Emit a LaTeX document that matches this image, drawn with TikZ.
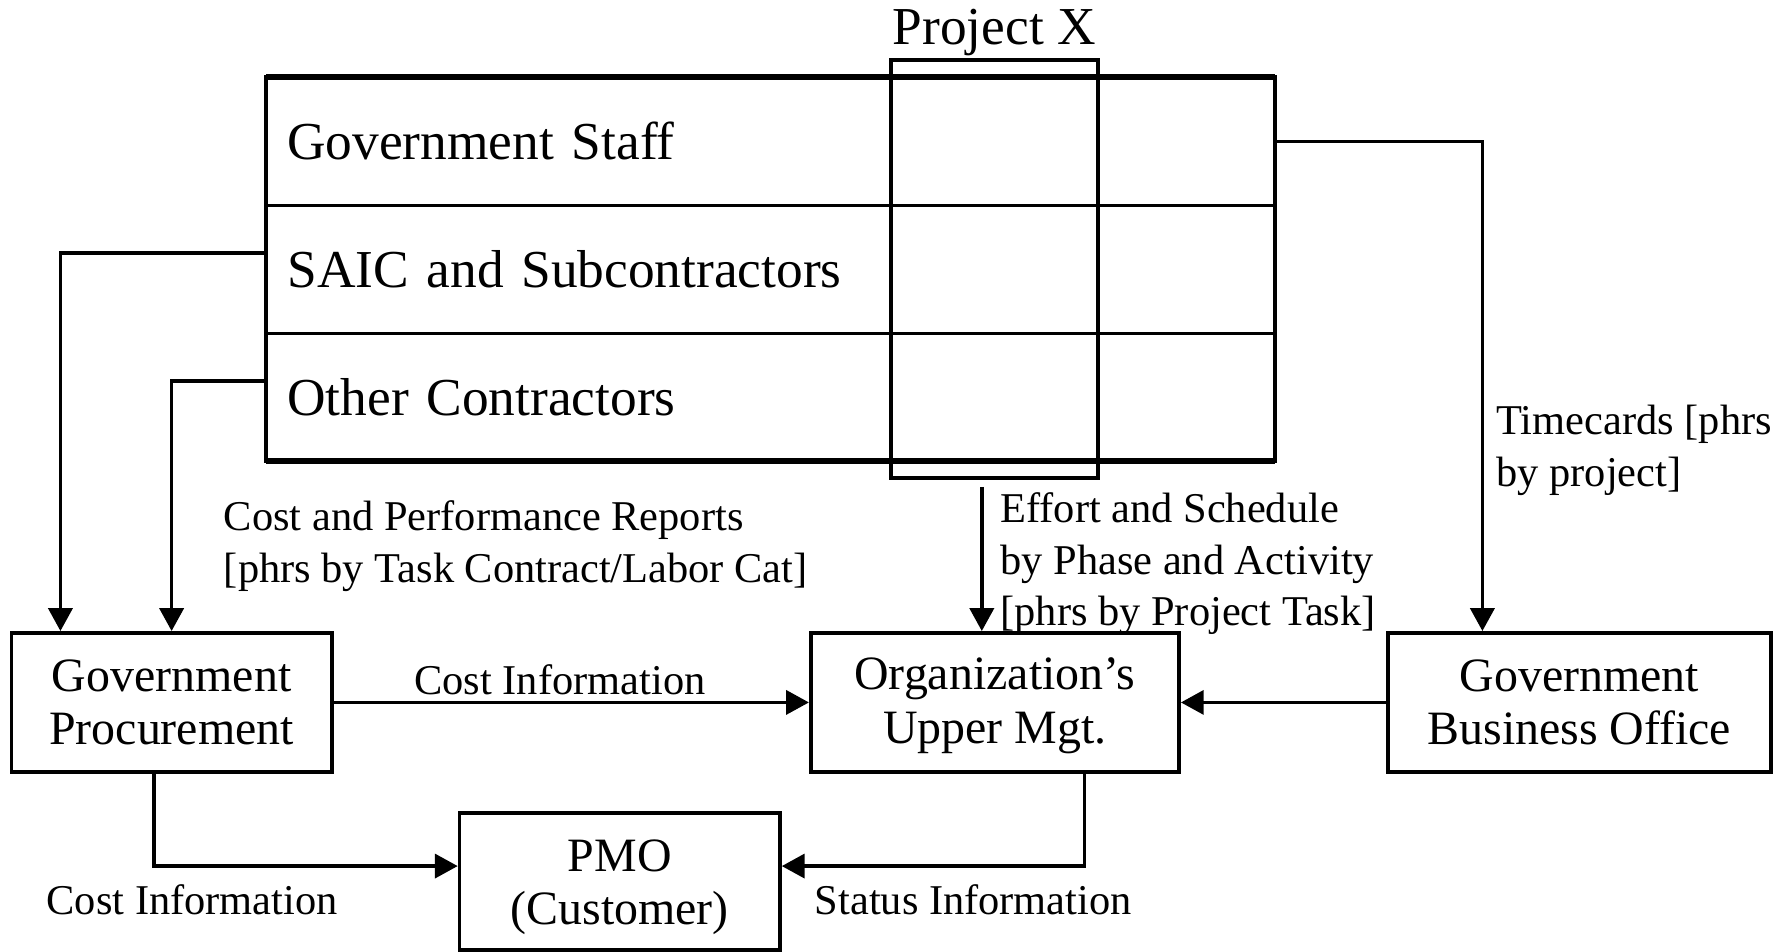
\documentclass[tikz,border=0pt]{standalone}
\usepackage{fontspec}
\setmainfont{Liberation Serif}
\usetikzlibrary{arrows.meta,positioning}
\newcommand{\bigfont}{\fontsize{23.4}{26}\selectfont}
\newcommand{\boxfont}{\fontsize{21}{23.5}\selectfont}
\newcommand{\lblfont}{\fontsize{18.6}{22.5}\selectfont}
\tikzset{
  rowcell/.style={minimum width=442pt,minimum height=56pt,inner xsep=9pt,inner ysep=0pt,text width=424pt,align=left,font=\bigfont},
  block/.style={draw,line width=1.6pt,minimum height=61pt,inner sep=0pt,align=center,font=\boxfont},
  lbl/.style={inner sep=0pt,align=left,font=\lblfont},
  flow/.style={-{Triangle[length=10pt,width=10.5pt]},line width=1.6pt},
}
\begin{document}
\begin{tikzpicture}[x=0.5pt,y=-0.5pt,line join=miter]
\useasboundingbox (0,0) rectangle (1568,834);
% staff table
\node[rowcell] (staff) at (676,124) {Government Staff};
\node[rowcell] (saic) at (676,236) {SAIC and Subcontractors};
\node[rowcell] (other) at (676,348) {Other Contractors};
\draw[line width=1.7pt] (staff.north west) rectangle (other.south east);
\draw[line width=1.2pt] (staff.south west) -- (staff.south east) (saic.south west) -- (saic.south east);
\draw[line width=2.8pt] (staff.north west) -- (staff.north east) (other.south west) -- (other.south east);
% project column
\node[draw,line width=1.8pt,minimum width=91pt,minimum height=183pt] (projx) at (872,236) {};
\node[above=1pt of projx,inner sep=0pt,font=\bigfont] (projlbl) {Project X};
% boxes
\node[block,minimum width=140.5pt] (procure) at (150.5,616) {Government\\Procurement};
\node[block,minimum width=161.5pt] (upper) at (872.5,616) {\rule{0pt}{17pt}Organization’s\\Upper Mgt.};
\node[block,minimum width=168pt] (office) at (1385,616) {Government\\Business Office};
\node[block,minimum width=140.5pt,minimum height=60pt] (pmo) at (543.5,773) {\rule{0pt}{19pt}PMO\\(Customer)};
% flows
\draw[flow] ([yshift=7pt]saic.west) -| ([xshift=-48.75pt]procure.north);
\draw[flow] ([yshift=7pt]other.west) -| (procure.north);
\draw[flow] (staff.east) -| ([xshift=-42.5pt]office.north);
\coordinate (effort) at (861,427);
\draw[flow] (effort) -- (effort |- upper.north);
\draw[flow] (procure) -- node[lbl,above=2.5pt,xshift=-5pt] (costtop) {Cost Information} (upper);
\draw[flow] (office) -- (upper);
\draw[flow] ([xshift=-7.75pt]procure.south) |- ([yshift=6.75pt]pmo.west);
\draw[flow] ([xshift=39.25pt]upper.south) |- ([yshift=6.75pt]pmo.east);
% labels
\node[lbl,anchor=north west] (reports) at (196,439) {Cost and Performance Reports\\{[}phrs by Task Contract/Labor Cat{]}};
\node[lbl,anchor=north west] (effortlbl) at (877,432) {Effort and Schedule\\by Phase and Activity\\{[}phrs by Project Task{]}};
\node[lbl,anchor=north west] (timelbl) at (1312,355) {Timecards {[}phrs\\by project{]}};
\node[lbl,anchor=north] (costlbl) at (168.5,775) {Cost Information};
\node[lbl,anchor=north] (statuslbl) at (853.5,775) {Status Information};
\end{tikzpicture}
\end{document}
